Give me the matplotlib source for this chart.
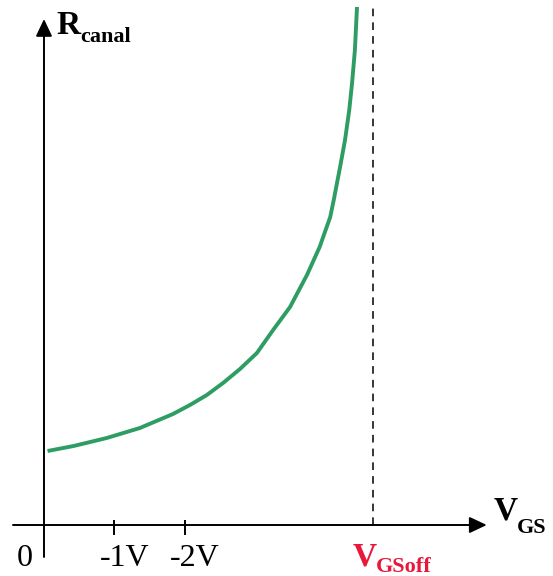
import numpy as np
import matplotlib.pyplot as plt

# |VGS| in volts vs channel resistance (arbitrary units)
vgs = [0.05, 0.42, 0.89, 1.36, 1.83, 2.07, 2.31, 2.54, 2.78, 3.02, 3.25,
       3.49, 3.73, 3.91, 4.06, 4.11, 4.20, 4.27, 4.33, 4.37, 4.41, 4.44]
r_canal = [0.74, 0.79, 0.87, 0.97, 1.11, 1.20, 1.30, 1.42, 1.56, 1.72, 1.95,
           2.18, 2.50, 2.78, 3.08, 3.25, 3.58, 3.85, 4.15, 4.42, 4.75, 5.18]

tick_pos = [1, 2]
tick_labels = ['-1V', '-2V']
vgs_off = 4.67

green = '#2e9d63'
red = '#e8173c'
serif = 'Liberation Serif'

fig = plt.figure(figsize=(5.53, 5.76), dpi=100)
ax = fig.add_axes([0, 0, 1, 1])
ax.set_xlim(-0.624, 7.22)
ax.set_ylim(-0.51, 5.25)
ax.axis('off')

# axes with arrows
arrow = dict(arrowstyle='-|>,head_length=0.7,head_width=0.33', color='black',
             lw=1.4, shrinkA=0, shrinkB=0, mutation_scale=15)
ax.annotate('', xy=(6.28, 0), xytext=(-0.44, 0), arrowprops=arrow)
ax.annotate('', xy=(0, 5.06), xytext=(0, -0.32), arrowprops=arrow)

for t in tick_pos:
    ax.plot([t, t], [-0.09, 0.04], color='black', lw=1.4)

ax.plot([vgs_off, vgs_off], [0, 5.18], color='black', lw=1.1, ls=(0, (5, 4)))

ax.plot(vgs, r_canal, color=green, lw=2.8, solid_capstyle='butt',
        solid_joinstyle='round')

# labels
ax.text(-0.27, -0.34, '0', fontsize=23, family=serif, ha='center', va='center')
for t, lab in zip(tick_pos, tick_labels):
    ax.text(t + 0.14, -0.34, lab, fontsize=23, family=serif, ha='center', va='center')

ax.text(0.18, 4.91, 'R', fontsize=24, family=serif, weight='bold', va='baseline')
ax.text(0.51, 4.83, 'canal', fontsize=16, family=serif, weight='bold', va='baseline')

ax.text(6.38, 0.05, 'V', fontsize=24, family=serif, weight='bold', va='baseline')
ax.text(6.71, -0.08, 'GS', fontsize=16, family=serif, weight='bold', va='baseline')

ax.text(4.38, -0.41, 'V', fontsize=24, family=serif, weight='bold', va='baseline', color=red)
ax.text(4.71, -0.47, 'GSoff', fontsize=16, family=serif, weight='bold', va='baseline', color=red)

fig.savefig('out.png', dpi=100)
